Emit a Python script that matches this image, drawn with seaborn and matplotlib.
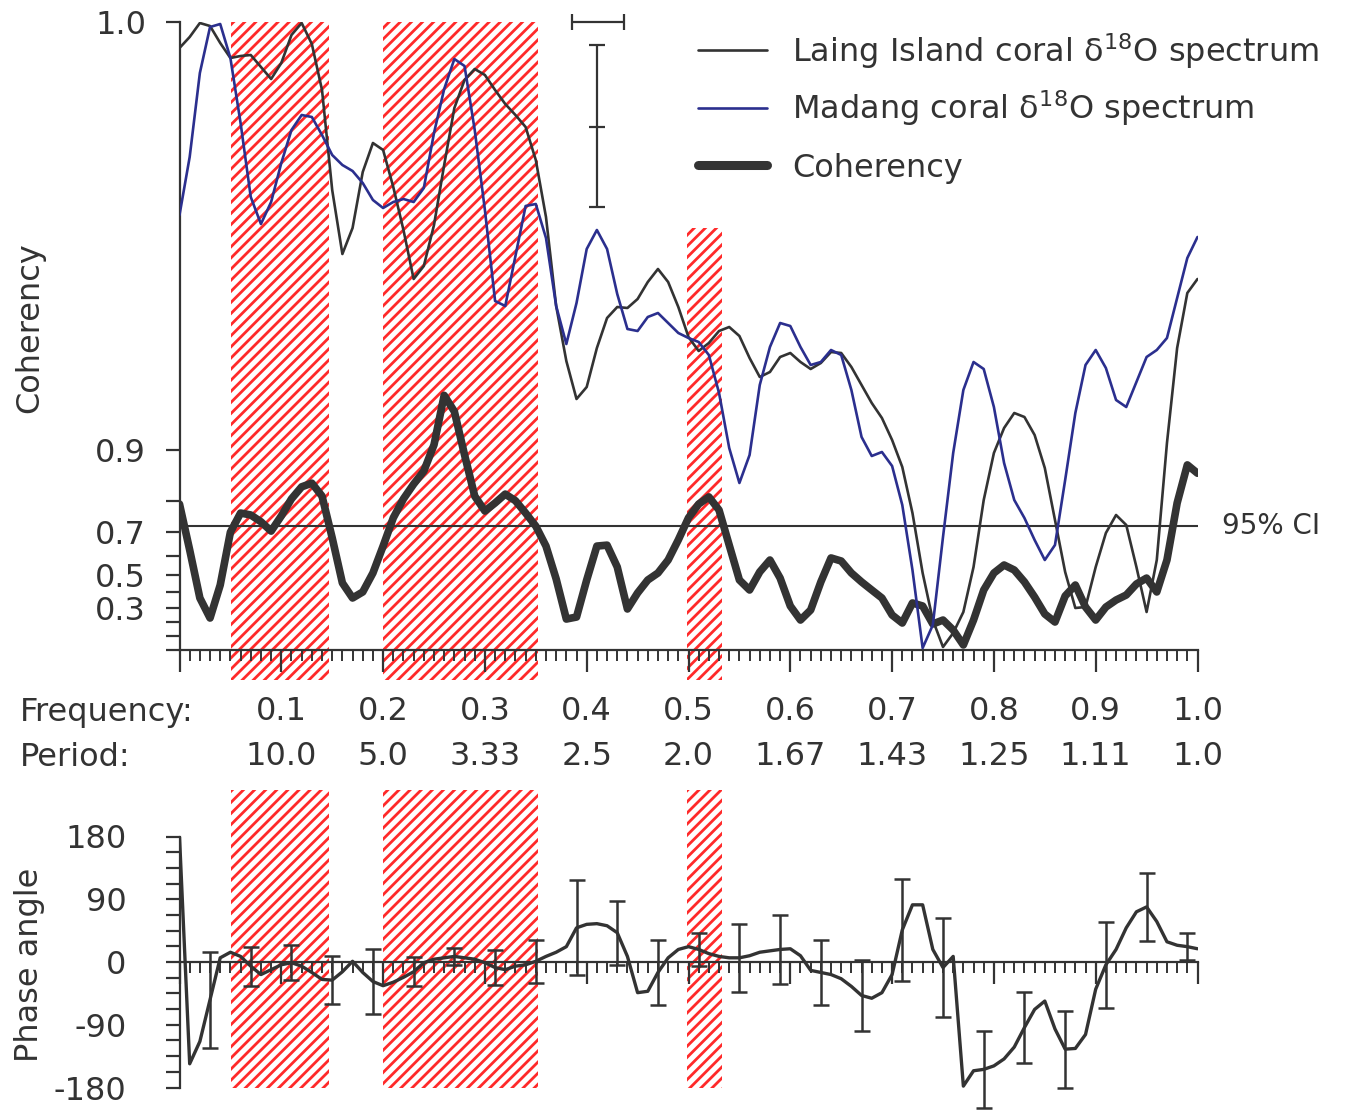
import numpy as np
import pandas as pd
import matplotlib
matplotlib.use("Agg")
import matplotlib.pyplot as plt
from matplotlib.patches import Rectangle
from matplotlib.lines import Line2D
from matplotlib.ticker import MultipleLocator, FixedLocator
import seaborn as sns

# ---------------------------------------------------------------- data
freq = np.round(np.arange(101) * 0.01, 2)

# relative log power of the two coral d18O spectra (arbitrary units)
laing_spec = [
    6.02, 6.13, 6.27, 6.24, 6.07, 5.92, 5.94, 5.95, 5.83, 5.71,
    5.87, 6.15, 6.27, 6.06, 5.60, 4.60, 3.96, 4.22, 4.78, 5.07,
    5.00, 4.63, 4.20, 3.71, 3.84, 4.25, 4.85, 5.42, 5.70, 5.81,
    5.75, 5.60, 5.46, 5.35, 5.23, 4.90, 4.33, 3.44, 2.89, 2.51,
    2.63, 3.02, 3.32, 3.43, 3.42, 3.51, 3.68, 3.81, 3.68, 3.43,
    3.13, 2.99, 3.07, 3.19, 3.23, 3.14, 2.92, 2.73, 2.78, 2.93,
    2.97, 2.88, 2.81, 2.87, 2.98, 2.97, 2.83, 2.65, 2.47, 2.32,
    2.10, 1.83, 1.37, 0.77, 0.30, 0.03, 0.17, 0.38, 0.83, 1.50,
    1.97, 2.22, 2.37, 2.33, 2.15, 1.82, 1.30, 0.78, 0.42, 0.43,
    0.83, 1.17, 1.35, 1.25, 0.83, 0.38, 0.90, 2.07, 3.02, 3.57,
    3.71,
]
madang_spec = [
    4.35, 4.93, 5.77, 6.23, 6.26, 5.92, 5.27, 4.53, 4.26, 4.48,
    4.87, 5.20, 5.35, 5.33, 5.15, 4.95, 4.85, 4.79, 4.67, 4.50,
    4.42, 4.48, 4.51, 4.48, 4.62, 5.17, 5.61, 5.91, 5.84, 5.20,
    4.40, 3.49, 3.44, 3.94, 4.44, 4.46, 4.12, 3.44, 3.06, 3.47,
    4.01, 4.20, 4.01, 3.56, 3.21, 3.19, 3.33, 3.37, 3.27, 3.17,
    3.12, 3.08, 2.95, 2.57, 2.02, 1.67, 1.95, 2.65, 3.03, 3.27,
    3.24, 3.03, 2.85, 2.88, 3.00, 2.95, 2.60, 2.13, 1.94, 1.98,
    1.84, 1.45, 0.80, 0.02, 0.25, 1.13, 1.97, 2.60, 2.88, 2.81,
    2.43, 1.87, 1.50, 1.32, 1.10, 0.90, 1.05, 1.70, 2.37, 2.85,
    3.00, 2.82, 2.50, 2.43, 2.68, 2.93, 3.00, 3.12, 3.52, 3.92,
    4.13,
]
coherency = [
    0.791, 0.627, 0.365, 0.231, 0.445, 0.700, 0.765, 0.759, 0.737, 0.704,
    0.756, 0.805, 0.834, 0.842, 0.812, 0.678, 0.457, 0.365, 0.403, 0.513,
    0.644, 0.750, 0.805, 0.840, 0.866, 0.907, 0.954, 0.942, 0.893, 0.812,
    0.771, 0.794, 0.817, 0.800, 0.765, 0.722, 0.644, 0.480, 0.224, 0.238,
    0.474, 0.644, 0.648, 0.545, 0.293, 0.397, 0.474, 0.513, 0.580, 0.670,
    0.750, 0.791, 0.810, 0.774, 0.648, 0.474, 0.415, 0.519, 0.580, 0.485,
    0.313, 0.217, 0.286, 0.463, 0.590, 0.575, 0.513, 0.463, 0.415, 0.365,
    0.252, 0.196, 0.333, 0.313, 0.189, 0.217, 0.146, 0.037, 0.217, 0.415,
    0.513, 0.555, 0.529, 0.463, 0.371, 0.259, 0.203, 0.378, 0.445, 0.306,
    0.217, 0.306, 0.352, 0.384, 0.451, 0.485, 0.403, 0.580, 0.794, 0.877,
    0.862,
]
phase = [
    180, -146, -114, -54, 6, 14, 8, -6, -18, -11,
    -4, -1, -6, -15, -25, -26, -14, 1, -15, -28,
    -34, -29, -22, -14, -1, 4, 6, 8, 6, 4,
    -1, -8, -11, -6, -4, 1, 8, 14, 22, 49,
    54, 55, 52, 42, 8, -44, -42, -15, 6, 18,
    22, 18, 12, 8, 6, 6, 9, 14, 16, 18,
    19, 9, -12, -15, -18, -24, -35, -48, -52, -44,
    -18, 46, 82, 82, 18, -8, 8, -178, -156, -154,
    -149, -139, -122, -94, -68, -56, -96, -125, -124, -104,
    -39, -4, 18, 49, 72, 79, 58, 29, 24, 22,
    19,
]
phase_err_freq = np.round(0.03 + 0.04 * np.arange(25), 2)
phase_err = [69, 28, 25, 34, 46, 21, 12, 25, 31, 68, 46, 46, 24,
             49, 49, 46, 51, 73, 71, 55, 51, 55, 62, 49, 19]

ci95 = 0.724
bands = [(0.051, 0.147), (0.200, 0.352), (0.499, 0.533)]

# spectral confidence interval and bandwidth bar
spec_ci_freq, spec_ci_mid, spec_ci_lo, spec_ci_hi = 0.41, 5.23, 0.80, 0.82
bw_freq, bw_level, bw_half = 0.4115, 6.28, 0.0255

freq_ticks = [0.1, 0.2, 0.3, 0.4, 0.5, 0.6, 0.7, 0.8, 0.9, 1.0]
freq_labels = ["0.1", "0.2", "0.3", "0.4", "0.5", "0.6", "0.7", "0.8", "0.9", "1.0"]
period_labels = ["10.0", "5.0", "3.33", "2.5", "2.0", "1.67", "1.43", "1.25", "1.11", "1.0"]
coh_ticks = [0.0, 0.1, 0.2, 0.3, 0.4, 0.5, 0.6, 0.7, 0.8, 0.9]
coh_labels = ["", "", "", "0.3", "", "0.5", "", "0.7", "", "0.9"]
phase_ticks = [-180, -90, 0, 90, 180]
phase_labels = ["-180", "-90", "0", "90", "180"]

series_labels = ["Laing Island coral δ$^{18}$O spectrum",
                 "Madang coral δ$^{18}$O spectrum",
                 "Coherency"]

# ---------------------------------------------------------------- style
sns.set_theme(style="white")
plt.rcParams["font.family"] = ["DejaVu Sans"]
plt.rcParams["hatch.linewidth"] = 2.0
INK = "#333333"
BLUE = "#2b2f8e"
RED = "#ff2a2a"
FS = 23

W, H = 1354, 1111
fig = plt.figure(figsize=(W / 100, H / 100), dpi=100)


def box(x0, y_top, x1, y_bot):
    return [x0 / W, 1 - y_bot / H, (x1 - x0) / W, (y_bot - y_top) / H]


def fx(px):
    return px / W


def fy(py):
    return 1 - py / H


df = pd.DataFrame({"freq": freq, "laing": laing_spec, "madang": madang_spec,
                   "coh": coherency, "phase": phase})

# ---------------------------------------------------------------- coherency panel
ax = fig.add_axes(box(179.5, 22, 1197.5, 650))
fisher = (lambda c: np.arctanh(np.clip(c, 0.0, 0.999999)), np.tanh)
ax.set_yscale("function", functions=fisher)
coh_top = np.tanh(4.6227)

for f0, f1 in bands[:2]:
    ax.add_patch(Rectangle((f0, -0.048), f1 - f0, 1.048, transform=ax.get_xaxis_transform(),
                           facecolor="none", edgecolor=RED, hatch="///", lw=0,
                           clip_on=False, zorder=0.5))
f0, f1 = bands[2]
ax.add_patch(Rectangle((f0, -0.048), f1 - f0, 0.72, transform=ax.get_xaxis_transform(),
                       facecolor="none", edgecolor=RED, hatch="///", lw=0,
                       clip_on=False, zorder=0.5))

ax.axhline(ci95, color=INK, lw=1.5, zorder=2)
sns.lineplot(data=df, x="freq", y="coh", ax=ax, color=INK, lw=5.5,
             estimator=None, sort=False, zorder=4, solid_joinstyle="round")
ax.set_xlim(0, 1)
ax.set_ylim(0, coh_top)
ax.set_xlabel("")
ax.set_ylabel("")
for s in ("top", "right"):
    ax.spines[s].set_visible(False)
for s in ("left", "bottom"):
    ax.spines[s].set_color(INK)
    ax.spines[s].set_linewidth(1.6)

ax.yaxis.set_major_locator(FixedLocator(coh_ticks + [coh_top]))
ax.set_yticklabels(coh_labels + ["1.0"])
ax.yaxis.set_minor_locator(FixedLocator([]))
ax.tick_params(axis="y", which="major", direction="out", length=10, width=1.6,
               color=INK, labelcolor=INK, labelsize=FS, pad=14, left=True)
ax.xaxis.set_major_locator(MultipleLocator(0.1))
ax.xaxis.set_minor_locator(MultipleLocator(0.01))
ax.tick_params(axis="x", which="major", direction="out", length=16, width=1.6,
               color=INK, labelbottom=False, bottom=True)
ax.tick_params(axis="x", which="minor", direction="out", length=8, width=1.4,
               color=INK, bottom=True)

tx = ax.get_xaxis_transform()
for f, fl, pl in zip(freq_ticks, freq_labels, period_labels):
    ax.text(f, -0.0987, fl, transform=tx, ha="center", va="center",
            fontsize=FS, color=INK)
    ax.text(f, -0.170, pl, transform=tx, ha="center", va="center",
            fontsize=FS, color=INK)
fig.text(fx(20), fy(712), "Frequency:", ha="left", va="center", fontsize=FS, color=INK)
fig.text(fx(20), fy(757), "Period:", ha="left", va="center", fontsize=FS, color=INK)
fig.text(fx(30), fy(328), "Coherency", rotation=90, ha="center", va="center",
         fontsize=FS, color=INK)
ax.text(1.024, ci95, "95% CI", ha="left", va="center", fontsize=20, color=INK,
        clip_on=False)

# spectra share the frequency axis but have their own power scale
ax2 = ax.twinx()
sns.lineplot(data=df, x="freq", y="laing", ax=ax2, color=INK, lw=1.9,
             estimator=None, sort=False, zorder=3)
sns.lineplot(data=df, x="freq", y="madang", ax=ax2, color=BLUE, lw=1.9,
             estimator=None, sort=False, zorder=3)
eb = ax2.errorbar([spec_ci_freq], [spec_ci_mid], yerr=[[spec_ci_lo], [spec_ci_hi]],
                  fmt="_", ms=12, mew=1.6, color=INK, ecolor=INK, elinewidth=1.6,
                  capsize=6, capthick=1.6)
eb2 = ax2.errorbar([bw_freq], [bw_level], xerr=[bw_half], fmt="none", ecolor=INK,
                   elinewidth=1.6, capsize=6, capthick=1.6)
for art in list(eb2.lines[1]) + list(eb2.lines[2]):
    art.set_clip_on(False)
ax2.set_xlim(0, 1)
ax2.set_ylim(0, 6.28)
ax2.axis("off")

# key: one row per series, evenly spaced
key_styles = [dict(color=INK, lw=1.9),
              dict(color=BLUE, lw=1.9),
              dict(color=INK, lw=6.5, solid_capstyle="round")]
for i, (lab, st) in enumerate(zip(series_labels, key_styles)):
    y_mid = 50 + 57.5 * i
    fig.add_artist(Line2D([fx(698), fx(767)], [fy(y_mid), fy(y_mid)],
                          transform=fig.transFigure, **st))
    fig.text(fx(792), fy(y_mid + 12), lab, ha="left", va="baseline",
             fontsize=FS, color=INK)

# ---------------------------------------------------------------- phase panel
bx = fig.add_axes(box(179.5, 836.5, 1197.5, 1087.5))
for f0, f1 in bands:
    bx.add_patch(Rectangle((f0, 0), f1 - f0, 1.185, transform=bx.get_xaxis_transform(),
                           facecolor="none", edgecolor=RED, hatch="///", lw=0,
                           clip_on=False, zorder=0.5))
sns.lineplot(data=df, x="freq", y="phase", ax=bx, color=INK, lw=2.4,
             estimator=None, sort=False, zorder=3)
err_mid = [phase[int(round(f * 100))] for f in phase_err_freq]
eb3 = bx.errorbar(phase_err_freq, err_mid, yerr=phase_err, fmt="none", ecolor=INK,
                  elinewidth=1.8, capsize=6, capthick=1.8, zorder=3)
for art in list(eb3.lines[1]) + list(eb3.lines[2]):
    art.set_clip_on(False)
bx.set_xlim(0, 1)
bx.set_ylim(-180, 180)
bx.set_xlabel("")
bx.set_ylabel("")
for s in ("top", "right"):
    bx.spines[s].set_visible(False)
bx.spines["bottom"].set_position(("data", 0))
for s in ("left", "bottom"):
    bx.spines[s].set_color(INK)
    bx.spines[s].set_linewidth(1.6)
bx.yaxis.set_major_locator(FixedLocator(phase_ticks))
bx.set_yticklabels(phase_labels)
bx.yaxis.set_minor_locator(MultipleLocator(22.5))
bx.tick_params(axis="y", which="both", direction="out", length=10, width=1.6,
               color=INK, labelcolor=INK, labelsize=FS, pad=28, left=True)
bx.xaxis.set_major_locator(MultipleLocator(0.1))
bx.xaxis.set_minor_locator(MultipleLocator(0.01))
bx.tick_params(axis="x", which="major", direction="out", length=16, width=1.6,
               color=INK, labelbottom=False, bottom=True)
bx.tick_params(axis="x", which="minor", direction="out", length=8, width=1.4,
               color=INK, bottom=True)
fig.text(fx(30), fy(965), "Phase angle", rotation=90, ha="center", va="center",
         fontsize=FS, color=INK)

fig.savefig("out.png", dpi=100, facecolor="white")
